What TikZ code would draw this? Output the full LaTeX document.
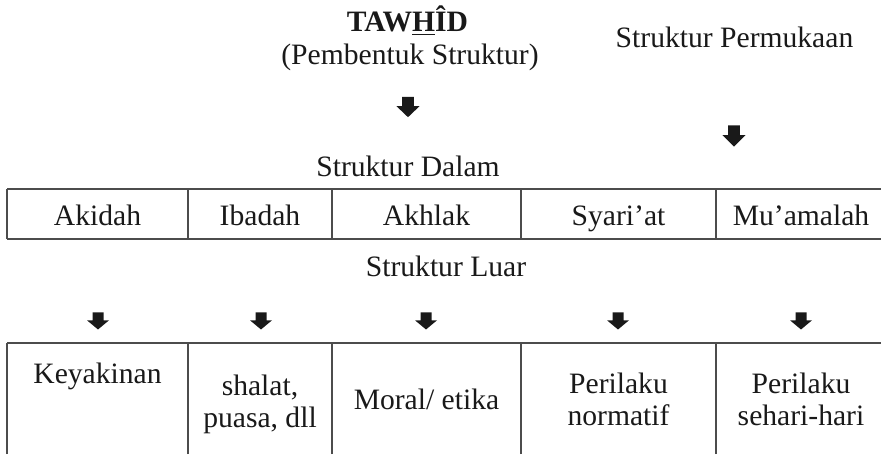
\documentclass[tikz,border=0pt]{standalone}
\usepackage{fontspec}
\setmainfont{Liberation Serif}
\begin{document}
\begin{tikzpicture}[
    x=0.5pt, y=0.5pt,
    every node/.style={inner sep=0pt, text=black!90, font=\fontsize{14.8pt}{16pt}\selectfont},
    lab/.style={anchor=base},
    cell/.style={anchor=north, align=center},
    rule/.style={line width=0.6pt, draw=black!70},
    darr/.pic={\fill[black!90] (-5.5,8.5) -- (5.5,8.5) -- (5.5,0.7) -- (11,0.7) -- (0,-8.5) -- (-11,0.7) -- (-5.5,0.7) -- cycle;}
]
\useasboundingbox (0,0) rectangle (881,454);
\clip (0,0) rectangle (881,454);

% heading
\node[lab, font=\bfseries\fontsize{14.8pt}{16pt}\selectfont] (tawhid) at (407.5,422) {TAW\underline{H}ÎD};
\node[lab] (pembentuk) at (410,389) {(Pembentuk Struktur)};
\node[lab] (permukaan) at (734.5,406) {Struktur Permukaan};
\pic[xscale=1.05, yscale=1.2] at (408,347) {darr};
\pic[xscale=1.05, yscale=1.25] at (734,318) {darr};

% struktur dalam
\node[lab] (dalam) at (408,277) {Struktur Dalam};
\draw[rule] (7,265) -- (881,265);
\draw[rule] (7,215) -- (881,215);
\draw[rule] (7,215) -- (7,265);
\draw[rule] (188,215) -- (188,265);
\draw[rule] (332,215) -- (332,265);
\draw[rule] (521,215) -- (521,265);
\draw[rule] (716,215) -- (716,265);

\node[lab] (akidah) at (97.5,228) {Akidah};
\node[lab] (ibadah) at (260,228) {Ibadah};
\node[lab] (akhlak) at (426.5,228) {Akhlak};
\node[lab] (syariat) at (618.5,228) {Syari’at};
\node[lab] (muamalah) at (801,228) {Mu’amalah};

% struktur luar
\node[lab] (luar) at (446,177) {Struktur Luar};
\pic at (98,133) {darr};
\pic at (261,133) {darr};
\pic at (426,133) {darr};
\pic at (618,133) {darr};
\pic at (801,133) {darr};

\draw[rule] (7,111) -- (881,111);
\draw[rule] (7,0) -- (7,111);
\draw[rule] (188,0) -- (188,111);
\draw[rule] (332,0) -- (332,111);
\draw[rule] (521,0) -- (521,111);
\draw[rule] (716,0) -- (716,111);

\node[lab] (keyakinan) at (97.5,70) {Keyakinan};
\node[cell] (shalat) at (260,79) {shalat,\\ puasa, dll};
\node[lab] (moral) at (426.5,44) {Moral/ etika};
\node[cell] (normatif) at (618.5,81) {Perilaku\\ normatif};
\node[cell] (harian) at (801,81) {Perilaku\\ sehari-hari};
\end{tikzpicture}
\end{document}
